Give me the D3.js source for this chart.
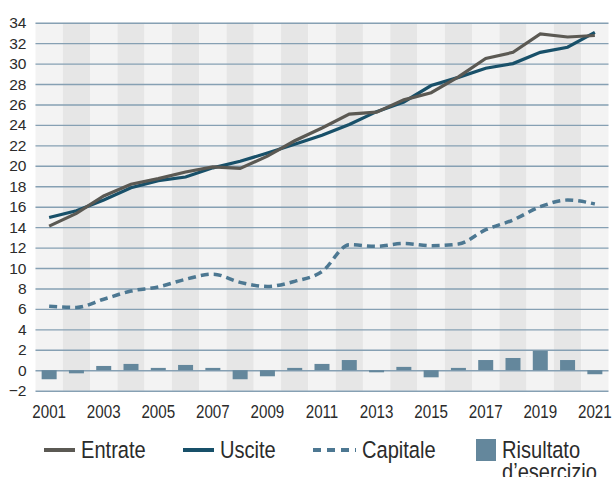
<!DOCTYPE html>
<html>
<head>
<meta charset="utf-8">
<script src="https://cdn.jsdelivr.net/npm/d3@7"></script>
<style>
  body { margin: 0; background: #fff; }
  svg { display: block; }
  text { fill: #2b2b2b; }
</style>
</head>
<body>
<svg width="615" height="477"></svg>
<script>
const years = [2001, 2002, 2003, 2004, 2005, 2006, 2007, 2008, 2009, 2010, 2011,
               2012, 2013, 2014, 2015, 2016, 2017, 2018, 2019, 2020, 2021];

const entrate = [14.1, 15.35, 17.05, 18.2, 18.75, 19.4, 19.9, 19.75, 20.95, 22.45, 23.7,
                 25.05, 25.25, 26.45, 27.15, 28.7, 30.5, 31.1, 32.9, 32.6, 32.75];

const uscite = [14.95, 15.6, 16.65, 17.85, 18.55, 18.9, 19.8, 20.45, 21.25, 22.1, 23.0,
                24.05, 25.3, 26.25, 27.85, 28.65, 29.55, 30.0, 31.1, 31.6, 33.05];

const capitale = [6.25, 6.15, 6.95, 7.75, 8.15, 8.9, 9.4, 8.6, 8.2, 8.7, 9.65,
                  12.28, 12.12, 12.4, 12.18, 12.35, 13.75, 14.7, 16.0, 16.65, 16.27];

const risultato = [-0.88, -0.3, 0.42, 0.62, 0.23, 0.52, 0.23, -0.88, -0.59, 0.23, 0.62,
                   1.0, -0.2, 0.33, -0.69, 0.23, 1.0, 1.2, 1.9, 1.0, -0.39];

const yTicks = [-2, 0, 2, 4, 6, 8, 10, 12, 14, 16, 18, 20, 22, 24, 26, 28, 30, 32, 34];
const xTickYears = [2001, 2003, 2005, 2007, 2009, 2011, 2013, 2015, 2017, 2019, 2021];

const legendNames = ["Entrate", "Uscite", "Capitale", "Risultato", "d\u2019esercizio"];

const colEntrate = "#5b5953";
const colUscite = "#185069";
const colCapitale = "#4d7892";
const colBar = "#64879c";
const colGrid = "#86a0b3";

const font = "'Liberation Sans', Arial, sans-serif";
const squeeze = 0.82;   // reference font is a condensed face

const svg = d3.select("svg");

const xScale = d3.scaleBand()
    .domain(years)
    .range([35.5, 608.5]);

const yScale = d3.scaleLinear()
    .domain([-2, 34])
    .range([390.7, 22.7]);

const cx = d => xScale(d) + xScale.bandwidth() / 2;

// alternating year bands
svg.append("g")
    .selectAll("rect")
    .data(years)
    .enter().append("rect")
        .attr("x", d => xScale(d))
        .attr("y", yScale(34))
        .attr("width", xScale.bandwidth())
        .attr("height", yScale(-2) - yScale(34))
        .attr("fill", (d, i) => i % 2 === 0 ? "#f3f3f3" : "#e6e6e6");

// y axis: gridlines + labels
const yAxis = d3.axisLeft(yScale)
    .tickValues(yTicks)
    .tickSize(-(xScale.range()[1] - xScale.range()[0]))
    .tickPadding(9);

const yAxisG = svg.append("g")
    .attr("transform", "translate(" + xScale.range()[0] + ",0)")
    .call(yAxis);
yAxisG.select(".domain").remove();
yAxisG.selectAll(".tick line")
    .attr("stroke", colGrid)
    .attr("stroke-width", 1.4);
yAxisG.selectAll(".tick text")
    .attr("font-family", font)
    .attr("font-size", 15.5)
    .attr("fill", "#2b2b2b");

// bars
const barW = 15;
svg.append("g")
    .selectAll("rect")
    .data(risultato)
    .enter().append("rect")
        .attr("x", (d, i) => cx(years[i]) - barW / 2)
        .attr("y", d => yScale(Math.max(0, d)))
        .attr("width", barW)
        .attr("height", d => Math.abs(yScale(d) - yScale(0)))
        .attr("fill", colBar);

// lines
const lineOf = (vals, curve) => d3.line()
    .x((d, i) => cx(years[i]))
    .y(d => yScale(d))
    .curve(curve)(vals);

svg.append("path")
    .attr("d", lineOf(capitale, d3.curveMonotoneX))
    .attr("fill", "none")
    .attr("stroke", colCapitale)
    .attr("stroke-width", 3.5)
    .attr("stroke-dasharray", "8,5");

svg.append("path")
    .attr("d", lineOf(uscite, d3.curveLinear))
    .attr("fill", "none")
    .attr("stroke", colUscite)
    .attr("stroke-width", 3.2);

svg.append("path")
    .attr("d", lineOf(entrate, d3.curveLinear))
    .attr("fill", "none")
    .attr("stroke", colEntrate)
    .attr("stroke-width", 3.2);

// x labels
const xAxisG = svg.append("g")
    .attr("transform", "translate(0,392)")
    .call(d3.axisBottom(xScale).tickValues(xTickYears).tickSize(0).tickPadding(13));
xAxisG.select(".domain").remove();
xAxisG.selectAll(".tick text")
    .attr("font-family", font)
    .attr("font-size", 18.5)
    .attr("fill", "#2b2b2b")
    .attr("transform", "scale(" + squeeze + ",1)");

// legend
const lg = svg.append("g").attr("font-family", font).attr("font-size", 24.5);
const legY = 450;

const legText = (x, y, s) => lg.append("text")
    .attr("transform", "translate(" + x + "," + y + ") scale(" + squeeze + ",1)")
    .text(s);

lg.append("line").attr("x1", 44).attr("x2", 75).attr("y1", legY).attr("y2", legY)
    .attr("stroke", colEntrate).attr("stroke-width", 4);
legText(81, 458, legendNames[0]);

lg.append("line").attr("x1", 183).attr("x2", 214).attr("y1", legY).attr("y2", legY)
    .attr("stroke", colUscite).attr("stroke-width", 4);
legText(220, 458, legendNames[1]);

lg.append("line").attr("x1", 313).attr("x2", 356).attr("y1", legY).attr("y2", legY)
    .attr("stroke", colCapitale).attr("stroke-width", 4)
    .attr("stroke-dasharray", "8,6");
legText(362, 458, legendNames[2]);

lg.append("rect").attr("x", 476).attr("y", 439).attr("width", 20).attr("height", 22)
    .attr("fill", colBar);
legText(502, 458, legendNames[3]);
legText(502, 480, legendNames[4]);
</script>
</body>
</html>
